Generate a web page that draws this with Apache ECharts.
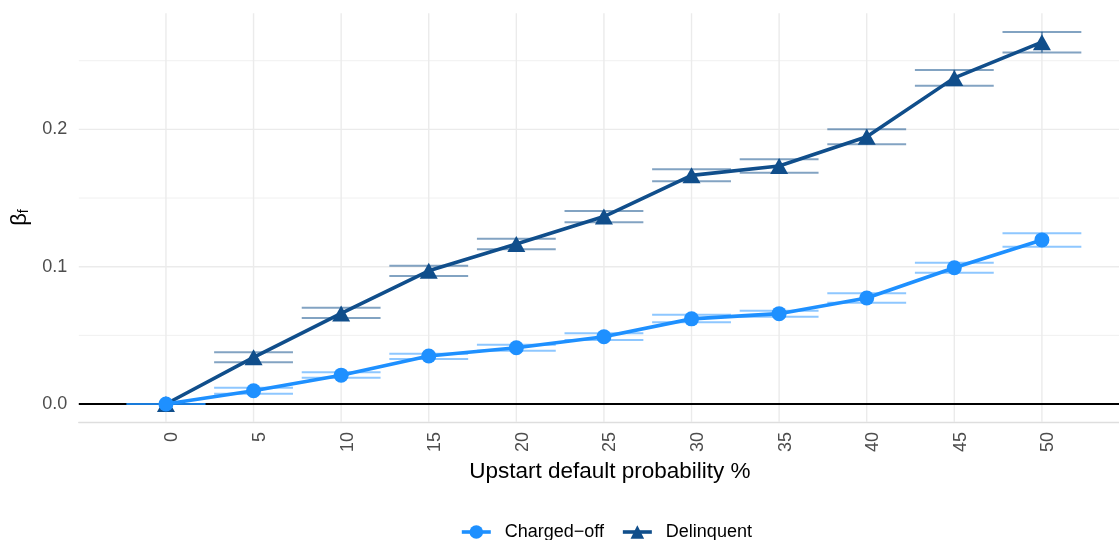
<!DOCTYPE html>
<html>
<head>
<meta charset="utf-8">
<style>
  html, body { margin: 0; padding: 0; background: #ffffff; }
  #chart { width: 1119px; height: 540px; }
</style>
<script src="https://cdn.jsdelivr.net/npm/echarts@6/dist/echarts.min.js"></script>
</head>
<body>
<div id="chart"></div>
<script>
// Upstart default probability (%) thresholds
const probabilities = [0, 5, 10, 15, 20, 25, 30, 35, 40, 45, 50];

// Estimated coefficients with lower / upper interval bounds
const chargedOff   = [0, 0.0097, 0.021, 0.035, 0.041, 0.049, 0.062, 0.0658, 0.0772, 0.0992, 0.1195];
const chargedOffLo = [0, 0.0075, 0.0192, 0.0328, 0.0388, 0.0466, 0.0595, 0.0636, 0.0738, 0.0956, 0.1146];
const chargedOffHi = [0, 0.0119, 0.0231, 0.0366, 0.0432, 0.0515, 0.065, 0.068, 0.0806, 0.1029, 0.1243];

const delinquent   = [0, 0.034, 0.066, 0.097, 0.1165, 0.1365, 0.1665, 0.1733, 0.1946, 0.2375, 0.2635];
const delinquentLo = [0, 0.0304, 0.0626, 0.0932, 0.1127, 0.1323, 0.1622, 0.1685, 0.1891, 0.2318, 0.256];
const delinquentHi = [0, 0.0377, 0.0701, 0.1007, 0.1204, 0.1406, 0.1709, 0.1782, 0.2001, 0.2433, 0.271];

// Axis breaks
const xTicks = [0, 5, 10, 15, 20, 25, 30, 35, 40, 45, 50];
const yMajor = [0, 0.1, 0.2];
const yMinor = [0.05, 0.15, 0.25];

const seriesNames = ['Charged\u2212off', 'Delinquent'];

const FONT = '"Liberation Sans", Arial, Helvetica, sans-serif';
const COL_CO = '#1E90FF';
const COL_DL = '#104E8B';
const CAP_HALF = 2.25;

const chart = echarts.init(document.getElementById('chart'), null, { renderer: 'canvas' });

function hLines(color, width) {
  return function (params, api) {
    const cs = params.coordSys;
    const y = api.coord([0, api.value(0)])[1];
    return {
      type: 'line',
      shape: { x1: cs.x, y1: y, x2: cs.x + cs.width, y2: y },
      style: { stroke: color, lineWidth: width },
      silent: true
    };
  };
}

function vLines(color, width) {
  return function (params, api) {
    const cs = params.coordSys;
    const x = api.coord([api.value(0), 0])[0];
    return {
      type: 'line',
      shape: { x1: x, y1: cs.y, x2: x, y2: cs.y + cs.height },
      style: { stroke: color, lineWidth: width },
      silent: true
    };
  };
}

function errorBars(color) {
  return function (params, api) {
    const x = api.value(0), lo = api.value(1), hi = api.value(2);
    const pLoL = api.coord([x - CAP_HALF, lo]);
    const pLoR = api.coord([x + CAP_HALF, lo]);
    const pHiL = api.coord([x - CAP_HALF, hi]);
    const pHiR = api.coord([x + CAP_HALF, hi]);
    const pMidLo = api.coord([x, lo]);
    const pMidHi = api.coord([x, hi]);
    const st = { stroke: color, lineWidth: 2 };
    return {
      type: 'group',
      children: [
        { type: 'line', shape: { x1: pLoL[0], y1: pLoL[1], x2: pLoR[0], y2: pLoR[1] }, style: st },
        { type: 'line', shape: { x1: pHiL[0], y1: pHiL[1], x2: pHiR[0], y2: pHiR[1] }, style: st },
        { type: 'line', shape: { x1: pMidLo[0], y1: pMidLo[1], x2: pMidHi[0], y2: pMidHi[1] }, style: st }
      ]
    };
  };
}

const coPoints = probabilities.map((p, i) => [p, chargedOff[i]]);
const dlPoints = probabilities.map((p, i) => [p, delinquent[i]]);
const coBars = probabilities.map((p, i) => [p, chargedOffLo[i], chargedOffHi[i]]);
const dlBars = probabilities.map((p, i) => [p, delinquentLo[i], delinquentHi[i]]);

const option = {
  backgroundColor: '#ffffff',
  animation: false,
  textStyle: { fontFamily: FONT },
  grid: { left: 78.8, right: 0, top: 13.2, bottom: 118, containLabel: false },
  xAxis: {
    type: 'value',
    min: -4.975,
    max: 54.4,
    name: 'Upstart default probability %',
    nameLocation: 'middle',
    nameGap: 36,
    nameTextStyle: { fontFamily: FONT, fontSize: 22.5, color: '#000000', padding: [0, 0, 0, 22] },
    axisLine: { show: true, onZero: false, lineStyle: { color: '#dedede', width: 1.4 } },
    axisTick: { show: false },
    splitLine: { show: false },
    axisLabel: {
      customValues: xTicks,
      rotate: 90,
      margin: 10,
      fontFamily: FONT,
      fontSize: 18,
      lineHeight: 13,
      verticalAlign: 'top',
      color: '#4d4d4d',
      formatter: v => String(v)
    }
  },
  yAxis: {
    type: 'value',
    min: -0.0131,
    max: 0.2846,
    name: '{b|\u03B2}{s|f}',
    nameLocation: 'middle',
    nameRotate: 90,
    nameGap: 44,
    nameTextStyle: {
      color: '#000000',
      rich: {
        b: { fontFamily: FONT, fontSize: 22, color: '#000000' },
        s: { fontFamily: FONT, fontSize: 14, color: '#000000', verticalAlign: 'bottom' }
      }
    },
    axisLine: { show: false },
    axisTick: { show: false },
    splitLine: { show: false },
    axisLabel: {
      customValues: yMajor,
      margin: 11.5,
      fontFamily: FONT,
      fontSize: 18,
      color: '#4d4d4d',
      formatter: v => Number(v).toFixed(1)
    }
  },
  legend: {
    data: seriesNames,
    left: 460,
    top: 523,
    padding: 0,
    orient: 'horizontal',
    itemWidth: 29,
    itemHeight: 17,
    itemGap: 17,
    lineStyle: { width: 3.6 },
    textStyle: { fontFamily: FONT, fontSize: 18, color: '#000000', padding: [0, 0, 0, 9] }
  },
  series: [
    {
      name: 'minorY', type: 'custom', z: 1, silent: true,
      data: yMinor.map(v => [v]), renderItem: hLines('#f0f0f0', 1)
    },
    {
      name: 'majorY', type: 'custom', z: 1, silent: true,
      data: yMajor.map(v => [v]), renderItem: hLines('#ebebeb', 1.4)
    },
    {
      name: 'majorX', type: 'custom', z: 1, silent: true,
      data: xTicks.map(v => [v]), renderItem: vLines('#ebebeb', 1.4)
    },
    {
      name: 'zeroLine', type: 'custom', z: 2, silent: true,
      data: [[0]], renderItem: hLines('#000000', 2)
    },
    {
      name: 'dlBars', type: 'custom', z: 3, silent: true,
      data: dlBars, renderItem: errorBars('rgba(16,78,139,0.52)')
    },
    {
      name: 'coBars', type: 'custom', z: 3, silent: true,
      data: coBars, renderItem: errorBars('rgba(30,144,255,0.5)')
    },
    {
      name: seriesNames[1],
      type: 'line',
      z: 4,
      data: dlPoints,
      symbol: 'triangle',
      symbolSize: [18, 16],
      showAllSymbol: true,
      lineStyle: { color: COL_DL, width: 3.6 },
      itemStyle: { color: COL_DL },
      emphasis: { disabled: true }
    },
    {
      name: seriesNames[0],
      type: 'line',
      z: 5,
      data: coPoints,
      symbol: 'circle',
      symbolSize: 15,
      showAllSymbol: true,
      lineStyle: { color: COL_CO, width: 3.6 },
      itemStyle: { color: COL_CO },
      emphasis: { disabled: true }
    }
  ]
};

chart.setOption(option);
</script>
</body>
</html>
